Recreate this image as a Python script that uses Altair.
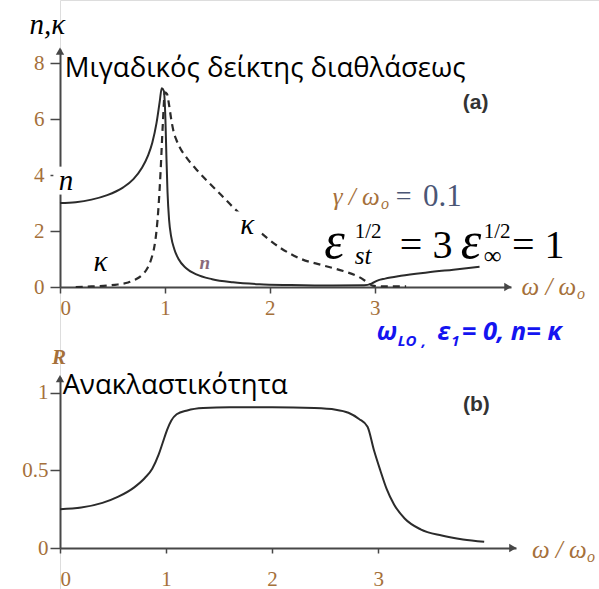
import altair as alt
import pandas as pd

# ---------------- data ----------------
# panel (a): refractive index n (solid) and extinction coefficient kappa (dashed)
n_x = [0, 0.15, 0.3, 0.45, 0.6, 0.7, 0.78, 0.84, 0.88, 0.92, 0.95, 0.97, 0.99, 1.005, 1.015,
       1.025, 1.04, 1.06, 1.09, 1.13, 1.2, 1.3, 1.45, 1.65, 1.9, 2.2, 2.6, 2.9, 2.97, 3.02,
       3.1, 3.25, 3.5, 3.75, 4.0]
n_y = [3.0, 3.03, 3.12, 3.28, 3.55, 3.85, 4.25, 4.7, 5.15, 5.85, 6.6, 7.1, 7.0, 6.0, 4.6,
       3.4, 2.4, 1.8, 1.35, 1.0, 0.68, 0.45, 0.28, 0.17, 0.1, 0.07, 0.05, 0.06, 0.12, 0.22,
       0.3, 0.4, 0.52, 0.62, 0.72]
k_x = [0.15, 0.3, 0.45, 0.55, 0.65, 0.72, 0.78, 0.83, 0.87, 0.9, 0.92, 0.94, 0.96, 0.98, 1.0,
       1.02, 1.04, 1.06, 1.08, 1.11, 1.14, 1.21, 1.3, 1.4, 1.52, 1.65, 1.85, 2.1, 2.3, 2.5,
       2.7, 2.85, 2.93, 2.98, 3.1, 3.3]
k_y = [0.0, 0.02, 0.05, 0.09, 0.16, 0.27, 0.42, 0.65, 1.0, 1.45, 2.0, 2.9, 4.2, 5.8, 6.95,
       6.9, 6.5, 6.0, 5.6, 5.25, 5.0, 4.6, 4.2, 3.8, 3.35, 2.85, 2.15, 1.4, 1.0, 0.78,
       0.57, 0.36, 0.17, 0.05, 0.02, 0.02]
# panel (b): reflectivity R
r_x = [0, 0.2, 0.4, 0.55, 0.7, 0.8, 0.87, 0.93, 0.97, 1.01, 1.05, 1.1, 1.2, 1.35, 1.6, 2.0,
       2.4, 2.6, 2.72, 2.82, 2.9, 2.96, 3.02, 3.08, 3.15, 3.25, 3.4, 3.6, 3.8, 4.0]
r_y = [0.25, 0.26, 0.29, 0.33, 0.39, 0.45, 0.51, 0.6, 0.68, 0.76, 0.82, 0.86, 0.885, 0.9,
       0.905, 0.905, 0.9, 0.89, 0.87, 0.83, 0.78, 0.63, 0.5, 0.38, 0.28, 0.19, 0.12, 0.08,
       0.055, 0.04]

ticks_a_x = [0, 1, 2, 3]
ticks_a_y = [0, 2, 4, 6, 8]
ticks_b_x = [0, 1, 2, 3]
ticks_b_y = [0, 0.5, 1]

# ---------------- styling ----------------
SERIF = "Liberation Serif"
SANS = "Open Sans"
LABEL_COL = "#a5703a"
CURVE_COL = "#2b2b2b"
AXIS_COL = "#474747"
BLUE = "#1414f0"

xs_a = alt.Scale(domain=[0, 4.3], range=[0, 451], nice=False, zero=False)
ys_a = alt.Scale(domain=[0, 8.5], range=[287, 49], nice=False, zero=False)
xs_b = alt.Scale(domain=[0, 4.3], range=[0, 456], nice=False, zero=False)
ys_b = alt.Scale(domain=[0, 1.1], range=[548, 377], nice=False, zero=False)

common_axis = dict(grid=False, title=None, domainColor=AXIS_COL, domainWidth=2,
                   tickColor=AXIS_COL, tickWidth=1.5, labelFont=SERIF,
                   labelFontSize=21, labelColor=LABEL_COL)

ax_xa = alt.Axis(orient="bottom", offset=287 - 589, values=ticks_a_x, tickSize=6,
                 labelPadding=4, **common_axis)
ax_ya = alt.Axis(orient="left", values=ticks_a_y, tickSize=10, labelPadding=6,
                 **common_axis)
ax_xb = alt.Axis(orient="bottom", offset=548 - 589, values=ticks_b_x, tickSize=5,
                 labelPadding=15, **common_axis)
ax_yb = alt.Axis(orient="left", values=ticks_b_y, tickSize=10, labelPadding=2,
                 labelExpr="datum.value == 1 ? '1' : datum.value == 0 ? '0' : '0.5'",
                 **common_axis)


def base_a(df):
    return alt.Chart(df).encode(
        x=alt.X("x:Q", scale=xs_a, axis=ax_xa),
        y=alt.Y("y:Q", scale=ys_a, axis=ax_ya),
    )


def base_b(df):
    return alt.Chart(df).encode(
        x=alt.X("x:Q", scale=xs_b, axis=ax_xb),
        y=alt.Y("y:Q", scale=ys_b, axis=ax_yb),
    )


def text_layer(base, df, font, size, color, style="normal", weight="normal", align="left"):
    return base(df).mark_text(font=font, fontSize=size, color=color, fontStyle=style,
                              fontWeight=weight, align=align, baseline="middle").encode(
        text="t:N")


# ---------------- panel (a) ----------------
df_n = pd.DataFrame({"x": n_x, "y": n_y})
df_k = pd.DataFrame({"x": k_x, "y": k_y})

n_line = base_a(df_n).mark_line(color=CURVE_COL, strokeWidth=2, interpolate="monotone")
k_line = base_a(df_k).mark_line(color=CURVE_COL, strokeWidth=2.2, strokeDash=[7, 5],
                                interpolate="monotone")

arrows_a = pd.DataFrame({"x": [4.27, 0], "y": [0, 8.42], "s": ["triangle-right", "triangle-up"]})
arrow_a = base_a(arrows_a).mark_point(filled=True, size=70, color=AXIS_COL, opacity=1).encode(
    shape=alt.Shape("s:N", scale=None))

# white boxes under the added curve labels
boxes_a = pd.DataFrame({"x": [0.07, 0.385, 1.785], "y": [3.8, 0.9, 2.2]})
box_a = base_a(boxes_a).mark_point(shape="square", filled=True, size=780, color="white",
                                   opacity=1)

lab_curves = pd.DataFrame({"x": [0.057, 0.385, 1.785], "y": [3.8, 0.9, 2.2],
                           "t": ["n", "κ", "κ"]})
t_curves = text_layer(base_a, lab_curves, SERIF, 29, "black", style="italic", align="center")

t_nk = text_layer(base_a, pd.DataFrame({"x": [-0.29], "y": [9.35], "t": ["n,κ"]}),
                  SERIF, 29, "black", style="italic")
t_title_a = text_layer(base_a, pd.DataFrame({"x": [0.045], "y": [7.8],
                                             "t": ["Μιγαδικός δείκτης διαθλάσεως"]}),
                       SANS, 27.5, "black")
t_pa = text_layer(base_a, pd.DataFrame({"x": [3.84], "y": [6.57], "t": ["(a)"]}),
                  "Liberation Sans", 21, "#333333", weight="bold")
t_small_n = text_layer(base_a, pd.DataFrame({"x": [1.33], "y": [0.86], "t": ["n"]}),
                       SERIF, 19, "#8a6a7a", style="italic", weight="bold")

# gamma / omega_o = 0.1
t_gam = text_layer(base_a, pd.DataFrame({"x": [2.6], "y": [3.21], "t": ["γ / ω"]}),
                   SERIF, 25, LABEL_COL, style="italic")
t_gam_o = text_layer(base_a, pd.DataFrame({"x": [3.06], "y": [2.98], "t": ["o"]}),
                     SERIF, 16, LABEL_COL, style="italic")
t_gam_eq = text_layer(base_a, pd.DataFrame({"x": [3.2], "y": [3.21], "t": ["="]}),
                      SERIF, 28, "#4b5675")
t_gam_v = text_layer(base_a, pd.DataFrame({"x": [3.46], "y": [3.21], "t": ["0.1"]}),
                     SERIF, 31, "#4b5675")

# eps_st^1/2 = 3   eps_inf^1/2 = 1
t_eps = text_layer(base_a, pd.DataFrame({"x": [2.52, 3.82], "y": [1.62, 1.62],
                                         "t": ["ε", "ε"]}),
                   SERIF, 52, "black", style="italic")
t_sup = text_layer(base_a, pd.DataFrame({"x": [2.81, 4.04], "y": [1.96, 1.96],
                                         "t": ["1/2", "1/2"]}),
                   SERIF, 21, "black")
t_sub = text_layer(base_a, pd.DataFrame({"x": [2.81], "y": [1.12], "t": ["st"]}),
                   SERIF, 25, "black", style="italic")
t_inf = text_layer(base_a, pd.DataFrame({"x": [4.04], "y": [1.12], "t": ["∞"]}),
                   SERIF, 25, "black")
t_eq = text_layer(base_a, pd.DataFrame({"x": [3.24, 4.31], "y": [1.46, 1.46],
                                        "t": ["= 3", "= 1"]}),
                  SERIF, 40, "black")

# omega / omega_o axis label (a)
t_wa = text_layer(base_a, pd.DataFrame({"x": [4.4], "y": [0.0], "t": ["ω / ω"]}),
                  SERIF, 25, LABEL_COL, style="italic")
t_wa_o = text_layer(base_a, pd.DataFrame({"x": [4.93], "y": [-0.25], "t": ["o"]}),
                    SERIF, 16, LABEL_COL, style="italic")

# blue note: omega_LO, eps_1 = 0, n = kappa
t_b1 = text_layer(base_a, pd.DataFrame({"x": [3.02, 3.6], "y": [-1.62, -1.62],
                                        "t": ["ω", "ε"]}),
                  SANS, 25, BLUE, style="italic", weight="bold")
t_b2 = text_layer(base_a, pd.DataFrame({"x": [3.22, 3.45, 3.73], "y": [-1.93, -1.93, -1.93],
                                        "t": ["LO", ",", "1"]}),
                  SANS, 15, BLUE, style="italic", weight="bold")
t_b3 = text_layer(base_a, pd.DataFrame({"x": [3.83], "y": [-1.62], "t": ["= 0, n= κ"]}),
                  SANS, 25.5, BLUE, style="italic", weight="bold")

panel_a = alt.layer(n_line, k_line, arrow_a, box_a, t_curves, t_nk, t_title_a, t_pa,
                    t_small_n, t_gam, t_gam_o, t_gam_eq, t_gam_v, t_eps, t_sup, t_sub,
                    t_inf, t_eq, t_wa, t_wa_o, t_b1, t_b2, t_b3)

# ---------------- panel (b) ----------------
df_r = pd.DataFrame({"x": r_x, "y": r_y})
r_line = base_b(df_r).mark_line(color=CURVE_COL, strokeWidth=2, interpolate="monotone")

arrows_b = pd.DataFrame({"x": [4.27, 0], "y": [0, 1.09], "s": ["triangle-right", "triangle-up"]})
arrow_b = base_b(arrows_b).mark_point(filled=True, size=70, color=AXIS_COL, opacity=1).encode(
    shape=alt.Shape("s:N", scale=None))

t_R = text_layer(base_b, pd.DataFrame({"x": [-0.01], "y": [1.225], "t": ["R"]}),
                 SERIF, 21, LABEL_COL, style="italic", weight="bold", align="center")
t_title_b = text_layer(base_b, pd.DataFrame({"x": [0.025], "y": [1.04],
                                             "t": ["Ανακλαστικότητα"]}),
                       SANS, 27.5, "black")
t_pb = text_layer(base_b, pd.DataFrame({"x": [3.80], "y": [0.917], "t": ["(b)"]}),
                  "Liberation Sans", 21, "#333333", weight="bold")
t_wb = text_layer(base_b, pd.DataFrame({"x": [4.45], "y": [-0.01], "t": ["ω / ω"]}),
                  SERIF, 25, LABEL_COL, style="italic")
t_wb_o = text_layer(base_b, pd.DataFrame({"x": [4.97], "y": [-0.055], "t": ["o"]}),
                    SERIF, 16, LABEL_COL, style="italic")

panel_b = alt.layer(r_line, arrow_b, t_R, t_title_b, t_pb, t_wb, t_wb_o)

chart = alt.layer(panel_a, panel_b).resolve_scale(
    x="independent", y="independent"
).properties(
    width=539, height=589,
    padding={"left": 60, "top": 0, "right": 0, "bottom": 0},
    autosize=alt.AutoSizeParams(type="none"),
).configure_view(stroke=None).configure(background="white")

chart.save("out.html", embed_options={"renderer": "svg", "actions": False})
